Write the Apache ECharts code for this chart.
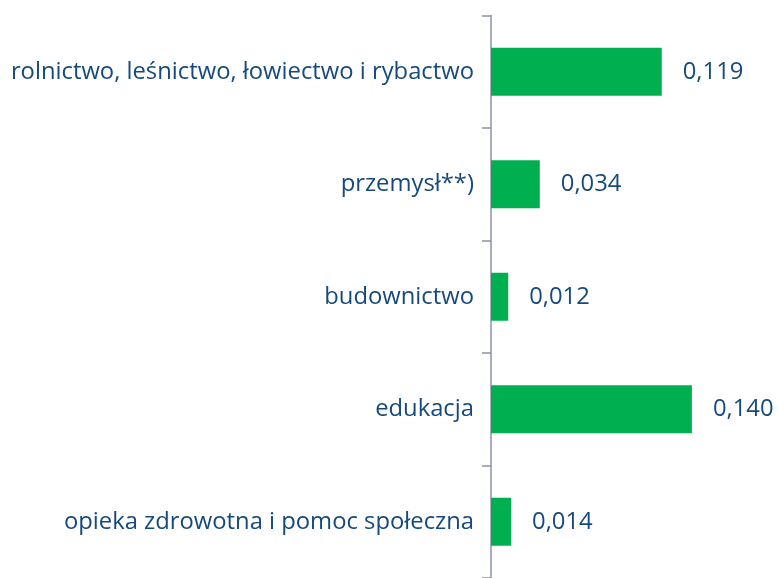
<!DOCTYPE html>
<html>
<head>
<meta charset="utf-8">
<script src="https://cdn.jsdelivr.net/npm/echarts@6/dist/echarts.min.js"></script>
<style>
  html, body { margin: 0; padding: 0; background: #fff; }
  #chart { width: 778px; height: 578px; }
</style>
</head>
<body>
<div id="chart"></div>
<script>
// kategorie i wartości
var categories = [
  'rolnictwo, leśnictwo, łowiectwo i rybactwo',
  'przemysł**)',
  'budownictwo',
  'edukacja',
  'opieka zdrowotna i pomoc społeczna'
];
var values = [0.119, 0.034, 0.012, 0.140, 0.014];

var myChart = echarts.init(document.getElementById('chart'));
var textColor = '#174a7c';
var option = {
  backgroundColor: '#fff',
  animation: false,
  grid: {
    left: 491,
    top: 15.5,
    width: 292,
    height: 568
  },
  xAxis: {
    type: 'value',
    min: 0,
    max: 0.2,
    show: false
  },
  yAxis: {
    type: 'category',
    data: categories,
    inverse: true,
    axisLine: { show: true, lineStyle: { color: '#8c93a6', width: 1.5 } },
    axisTick: { show: true, length: 9, lineStyle: { color: '#8c93a6', width: 1.5 } },
    axisLabel: {
      color: textColor,
      fontFamily: 'Open Sans',
      fontSize: 23.8,
      margin: 17
    }
  },
  series: [{
    type: 'bar',
    data: values,
    barWidth: 48,
    itemStyle: { color: '#00b050' },
    label: {
      show: true,
      position: 'right',
      distance: 21,
      color: textColor,
      fontFamily: 'Open Sans',
      fontSize: 23.8,
      formatter: function (p) {
        return p.value.toFixed(3).replace('.', ',');
      }
    }
  }]
};
myChart.setOption(option);
</script>
</body>
</html>
